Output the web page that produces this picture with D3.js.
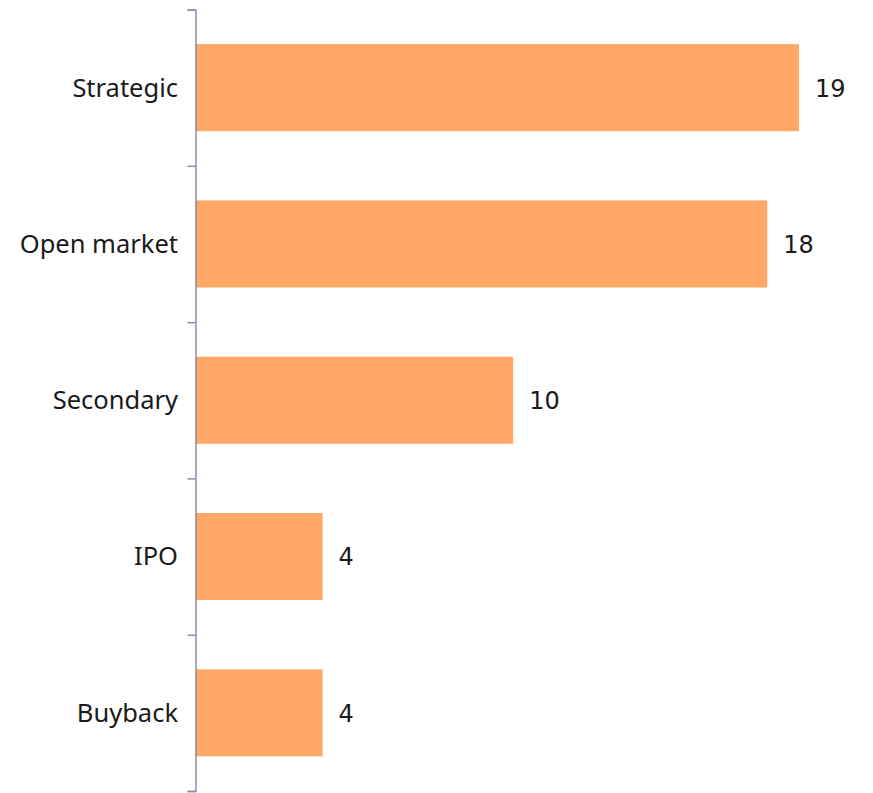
<!DOCTYPE html>
<html>
<head>
<meta charset="utf-8">
<script src="https://cdn.jsdelivr.net/npm/d3@7"></script>
<style>
  body { margin: 0; background: #fff; }
  .cat { font-family: "Noto Sans", sans-serif; font-size: 25.5px; fill: #1a1a1a; }
  .val { font-family: "DejaVu Sans", sans-serif; font-size: 24px; fill: #1a1a1a; }
</style>
</head>
<body>
<div id="chart"></div>
<script>
// Chart data
var categories = ["Strategic", "Open market", "Secondary", "IPO", "Buyback"];
var values = [19, 18, 10, 4, 4];

var svgWidth = 873;
var svgHeight = 793;

var svg = d3.select("#chart")
  .append("svg")
  .attr("width", svgWidth)
  .attr("height", svgHeight);

var axisX = 195.5;
var plotTop = 9.5;
var plotBottom = 791;

// Scales
var yBand = d3.scaleBand()
  .domain(categories)
  .range([plotTop, plotBottom])
  .paddingInner(0.443)
  .paddingOuter(0.2215);

var xLinear = d3.scaleLinear()
  .domain([0, 19])
  .range([axisX, 799]);

// Boundary ticks between bands
var yEdges = d3.scaleLinear()
  .domain([0, categories.length])
  .range([plotTop, plotBottom]);

// Bars
svg.selectAll("rect.bar")
  .data(categories)
  .enter()
  .append("rect")
  .attr("class", "bar")
  .attr("x", xLinear(0))
  .attr("y", d => yBand(d))
  .attr("width", (d, i) => xLinear(values[i]) - xLinear(0))
  .attr("height", yBand.bandwidth())
  .attr("fill", "#fea766");

// Axis line with ticks at band edges
var yAxis = d3.axisLeft(yEdges)
  .ticks(categories.length)
  .tickSize(8)
  .tickSizeOuter(8)
  .tickFormat("");

var axisG = svg.append("g")
  .attr("transform", `translate(${axisX}, 0)`)
  .call(yAxis);

axisG.selectAll("path, line")
  .attr("stroke", "#8f8da3")
  .attr("stroke-width", 1.5);

// Category labels
svg.selectAll("text.cat")
  .data(categories)
  .enter()
  .append("text")
  .attr("class", "cat")
  .attr("x", 178)
  .attr("y", d => yBand(d) + yBand.bandwidth() / 2)
  .attr("dy", "0.35em")
  .attr("text-anchor", "end")
  .text(d => d);

// Value labels
svg.selectAll("text.val")
  .data(categories)
  .enter()
  .append("text")
  .attr("class", "val")
  .attr("x", (d, i) => xLinear(values[i]) + 16)
  .attr("y", d => yBand(d) + yBand.bandwidth() / 2)
  .attr("dy", "0.37em")
  .text((d, i) => values[i]);
</script>
</body>
</html>
